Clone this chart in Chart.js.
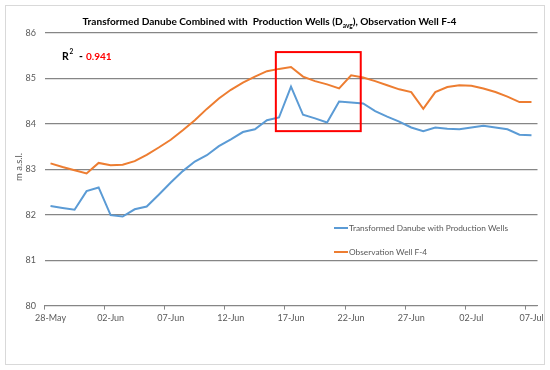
<!DOCTYPE html>
<html>
<head>
<meta charset="utf-8">
<script src="https://cdn.jsdelivr.net/npm/chart.js@4/dist/chart.umd.min.js"></script>
<style>
html,body{margin:0;padding:0;background:#fff;}
#wrap{width:550px;height:370px;position:relative;}
</style>
</head>
<body>
<div id="wrap"><canvas id="c" width="550" height="370"></canvas></div>
<script>
const dates = ['28-May','29-May','30-May','31-May','01-Jun','02-Jun','03-Jun','04-Jun','05-Jun','06-Jun',
  '07-Jun','08-Jun','09-Jun','10-Jun','11-Jun','12-Jun','13-Jun','14-Jun','15-Jun','16-Jun',
  '17-Jun','18-Jun','19-Jun','20-Jun','21-Jun','22-Jun','23-Jun','24-Jun','25-Jun','26-Jun',
  '27-Jun','28-Jun','29-Jun','30-Jun','01-Jul','02-Jul','03-Jul','04-Jul','05-Jul','06-Jul','07-Jul'];

const transformedDanube = [82.19,82.15,82.11,82.52,82.60,81.99,81.96,82.12,82.18,82.44,
  82.71,82.96,83.17,83.31,83.51,83.66,83.82,83.88,84.08,84.14,
  84.82,84.20,84.12,84.03,84.49,84.47,84.45,84.28,84.16,84.05,
  83.92,83.84,83.92,83.89,83.88,83.92,83.96,83.92,83.88,83.76,83.75];

const observationF4 = [83.13,83.05,82.98,82.91,83.14,83.09,83.10,83.18,83.32,83.48,
  83.65,83.86,84.08,84.33,84.56,84.75,84.91,85.04,85.16,85.21,
  85.25,85.04,84.94,84.87,84.78,85.07,85.02,84.94,84.85,84.76,
  84.70,84.33,84.70,84.81,84.85,84.84,84.78,84.70,84.60,84.48,84.48];

const yTicks = [80,81,82,83,84,85,86];
const seriesNames = ['Transformed Danube with Production Wells','Observation Well F-4'];
const seriesColors = ['#5B9BD5','#ED7D31'];
const rSquared = '0.941';
// highlighted window, in category-index and value units
const highlightBox = {xFrom: 18.74, xTo: 25.8, yFrom: 83.84, yTo: 85.58};

const FONT = 'Lato, "Open Sans", sans-serif';

const overlay = {
  id: 'overlay',
  beforeDraw(chart) {
    const ctx = chart.ctx;
    ctx.save();
    ctx.fillStyle = '#fff';
    ctx.fillRect(0, 0, chart.width, chart.height);
    ctx.strokeStyle = '#d9d9d9';
    ctx.lineWidth = 1;
    ctx.strokeRect(5.5, 5.5, 539, 359);
    ctx.restore();
  },
  afterDraw(chart) {
    const ctx = chart.ctx;
    const xs = chart.scales.x, ys = chart.scales.y;
    ctx.save();
    // title with subscript
    const t1 = 'Transformed Danube Combined with  Production Wells (D';
    const t2 = 'avg';
    const t3 = '), Observation Well F-4';
    const TF = 'bold 10.1px ' + FONT, SF = 'bold 6.5px ' + FONT;
    ctx.fillStyle = '#000';
    ctx.textBaseline = 'alphabetic';
    ctx.font = TF;
    const w1 = ctx.measureText(t1).width, w3 = ctx.measureText(t3).width;
    ctx.font = SF;
    const w2 = ctx.measureText(t2).width;
    let tx = 269.5 - (w1 + w2 + w3) / 2;
    const ty = 25;
    ctx.font = TF;
    ctx.textAlign = 'left';
    ctx.fillText(t1, tx, ty);
    tx += w1;
    ctx.font = SF;
    ctx.fillText(t2, tx, ty + 2.5);
    tx += w2;
    ctx.font = TF;
    ctx.fillText(t3, tx, ty);

    // R squared
    ctx.font = 'bold 10.5px ' + FONT;
    ctx.fillStyle = '#000';
    ctx.fillText('R', 62, 59.5);
    ctx.font = 'bold 6.5px ' + FONT;
    ctx.fillText('2', 69.5, 54);
    ctx.font = 'bold 10.5px ' + FONT;
    ctx.fillText('-', 79, 59.5);
    ctx.fillStyle = '#FF0000';
    ctx.font = 'bold 10px ' + FONT;
    ctx.fillText(rSquared, 86, 59.5);

    // y axis title
    ctx.save();
    ctx.translate(19, 167);
    ctx.rotate(-Math.PI / 2);
    ctx.textAlign = 'center';
    ctx.textBaseline = 'middle';
    ctx.font = '9.5px ' + FONT;
    ctx.fillStyle = '#595959';
    ctx.fillText('m a.s.l.', 0, 0);
    ctx.restore();

    // highlight box
    const bx0 = xs.getPixelForValue(highlightBox.xFrom);
    const bx1 = xs.getPixelForValue(highlightBox.xTo);
    const by0 = ys.getPixelForValue(highlightBox.yTo);
    const by1 = ys.getPixelForValue(highlightBox.yFrom);
    ctx.strokeStyle = '#FF0000';
    ctx.lineWidth = 2;
    ctx.strokeRect(bx0, by0, bx1 - bx0, by1 - by0);

    // legend
    ctx.font = '8.3px ' + FONT;
    ctx.textAlign = 'left';
    ctx.textBaseline = 'middle';
    chart.data.datasets.forEach((ds, i) => {
      const ly = 228 + i * 24;
      ctx.strokeStyle = ds.borderColor;
      ctx.lineWidth = 2;
      ctx.beginPath();
      ctx.moveTo(334, ly);
      ctx.lineTo(348, ly);
      ctx.stroke();
      ctx.fillStyle = '#595959';
      ctx.fillText(ds.label, 349, ly);
    });
    ctx.restore();
  }
};

new Chart(document.getElementById('c'), {
  type: 'line',
  data: {
    labels: dates,
    datasets: [
      {label: seriesNames[0], data: transformedDanube, borderColor: seriesColors[0], backgroundColor: seriesColors[0],
       borderWidth: 2, pointRadius: 0, tension: 0, fill: false},
      {label: seriesNames[1], data: observationF4, borderColor: seriesColors[1], backgroundColor: seriesColors[1],
       borderWidth: 2, pointRadius: 0, tension: 0, fill: false}
    ]
  },
  options: {
    responsive: false,
    animation: false,
    layout: {padding: {left: 0, right: 12.5, top: 33, bottom: 0}},
    plugins: {legend: {display: false}, title: {display: false}, tooltip: {enabled: false}},
    scales: {
      x: {
        type: 'category',
        offset: true,
        afterFit(s) { s.height = 64.4; },
        grid: {
          offset: true,
          drawOnChartArea: false,
          drawTicks: true,
          tickLength: 4,
          color: (c) => (c.index % 5 === 0 ? '#868686' : 'rgba(0,0,0,0)'),
          lineWidth: 1
        },
        border: {display: true, color: '#868686', width: 1},
        ticks: {
          autoSkip: false,
          maxRotation: 0,
          minRotation: 0,
          padding: 3,
          color: '#595959',
          font: {family: FONT, size: 9},
          callback: function(v, i) { return i % 5 === 0 ? dates[i] : ''; }
        }
      },
      y: {
        min: 80, max: 86,
        afterFit(s) { s.width = 44.5; },
        afterBuildTicks(s) { s.ticks = yTicks.map(v => ({value: v})); },
        grid: {color: '#868686', lineWidth: 1.2, drawTicks: false},
        border: {display: false},
        ticks: {
          padding: 8.5,
          color: '#595959',
          font: {family: FONT, size: 9}
        }
      }
    }
  },
  plugins: [overlay]
});
</script>
</body>
</html>
